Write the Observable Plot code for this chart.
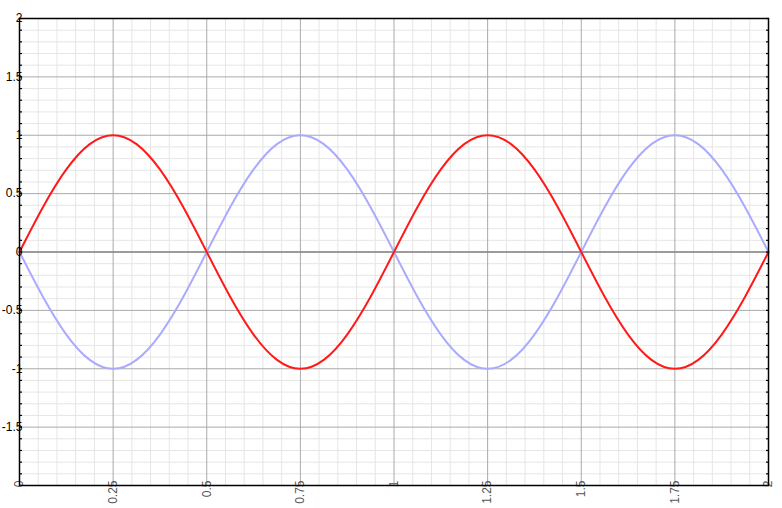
<!DOCTYPE html>
<html>
<head>
<meta charset="utf-8">
<script src="https://cdn.jsdelivr.net/npm/d3@7"></script>
<script src="https://cdn.jsdelivr.net/npm/@observablehq/plot@0.6"></script>
<style>
  html, body { margin: 0; padding: 0; background: #fff; }
  #chart svg { display: block; }
</style>
</head>
<body>
<div id="chart"></div>
<script>
// x positions (read every 1/16) and series values
const xValues = [0, 0.0625, 0.125, 0.1875, 0.25, 0.3125, 0.375, 0.4375, 0.5,
  0.5625, 0.625, 0.6875, 0.75, 0.8125, 0.875, 0.9375, 1,
  1.0625, 1.125, 1.1875, 1.25, 1.3125, 1.375, 1.4375, 1.5,
  1.5625, 1.625, 1.6875, 1.75, 1.8125, 1.875, 1.9375, 2];
const redValues = [0, 0.383, 0.707, 0.924, 1, 0.924, 0.707, 0.383, 0,
  -0.383, -0.707, -0.924, -1, -0.924, -0.707, -0.383, 0,
  0.383, 0.707, 0.924, 1, 0.924, 0.707, 0.383, 0,
  -0.383, -0.707, -0.924, -1, -0.924, -0.707, -0.383, 0];
const blueValues = [0, -0.383, -0.707, -0.924, -1, -0.924, -0.707, -0.383, 0,
  0.383, 0.707, 0.924, 1, 0.924, 0.707, 0.383, 0,
  -0.383, -0.707, -0.924, -1, -0.924, -0.707, -0.383, 0,
  0.383, 0.707, 0.924, 1, 0.924, 0.707, 0.383, 0];

const xTicks = [0, 0.25, 0.5, 0.75, 1, 1.25, 1.5, 1.75, 2];
const xTickLabels = ["0", "0.25", "0.5", "0.75", "1", "1.25", "1.5", "1.75", "2"];
const yTicks = [-1.5, -1, -0.5, 0, 0.5, 1, 1.5, 2];
const yTickLabels = ["-1.5", "-1", "-0.5", "0", "0.5", "1", "1.5", "2"];
const xMinor = [0.05,0.1,0.15,0.2,0.3,0.35,0.4,0.45,0.55,0.6,0.65,0.7,0.8,0.85,0.9,0.95,
  1.05,1.1,1.15,1.2,1.3,1.35,1.4,1.45,1.55,1.6,1.65,1.7,1.8,1.85,1.9,1.95];
const yMinor = [-1.9,-1.8,-1.7,-1.6,-1.4,-1.3,-1.2,-1.1,-0.9,-0.8,-0.7,-0.6,-0.4,-0.3,-0.2,-0.1,
  0.1,0.2,0.3,0.4,0.6,0.7,0.8,0.9,1.1,1.2,1.3,1.4,1.6,1.7,1.8,1.9];
const yAllTicks = [-2,-1.9,-1.8,-1.7,-1.6,-1.5,-1.4,-1.3,-1.2,-1.1,-1,-0.9,-0.8,-0.7,-0.6,-0.5,-0.4,-0.3,-0.2,-0.1,
  0,0.1,0.2,0.3,0.4,0.5,0.6,0.7,0.8,0.9,1,1.1,1.2,1.3,1.4,1.5,1.6,1.7,1.8,1.9,2];

const red = xValues.map((x, i) => ({x, y: redValues[i]}));
const blue = xValues.map((x, i) => ({x, y: blueValues[i]}));

const xFmt = d => xTickLabels[xTicks.indexOf(d)];
const yFmt = d => yTickLabels[yTicks.indexOf(d)];

const chart = Plot.plot({
  width: 782,
  height: 508,
  marginLeft: 19,
  marginRight: 14,
  marginTop: 18,
  marginBottom: 23,
  style: {fontFamily: "'Liberation Sans', Arial, sans-serif", fontSize: "12px", background: "#fff"},
  x: {domain: [0, 2], label: null},
  y: {domain: [-2, 2], label: null},
  marks: [
    Plot.gridX(xMinor, {stroke: "#e6e6e6", strokeOpacity: 1}),
    Plot.gridY(yMinor, {stroke: "#e6e6e6", strokeOpacity: 1}),
    Plot.gridX(xTicks, {stroke: "#aaa", strokeOpacity: 1}),
    Plot.gridY(yTicks, {stroke: "#aaa", strokeOpacity: 1}),
    Plot.ruleY([0], {stroke: "#888", strokeWidth: 1.5}),
    Plot.line(blue, {x: "x", y: "y", stroke: "#aaaaff", strokeWidth: 2, curve: "natural"}),
    Plot.line(red, {x: "x", y: "y", stroke: "#ff1a1a", strokeWidth: 2, curve: "natural"}),
    Plot.axisY(yAllTicks, {anchor: "left", tickSize: -3, text: null, label: null, stroke: "black", strokeWidth: 1.2}),
    Plot.axisY(yAllTicks, {anchor: "right", tickSize: -3, text: null, label: null, stroke: "black", strokeWidth: 1.2}),
    Plot.axisY(yTicks, {anchor: "left", tickSize: 0, tickPadding: -3, tickFormat: yFmt, label: null, fill: "black"}),
    Plot.axisX(xTicks, {anchor: "bottom", tickSize: 0, tickPadding: -5, tickRotate: -90, tickFormat: xFmt, label: null, fill: "#555"}),
    Plot.frame({stroke: "black", strokeWidth: 1.5})
  ]
});
document.getElementById("chart").appendChild(chart);
</script>
</body>
</html>
